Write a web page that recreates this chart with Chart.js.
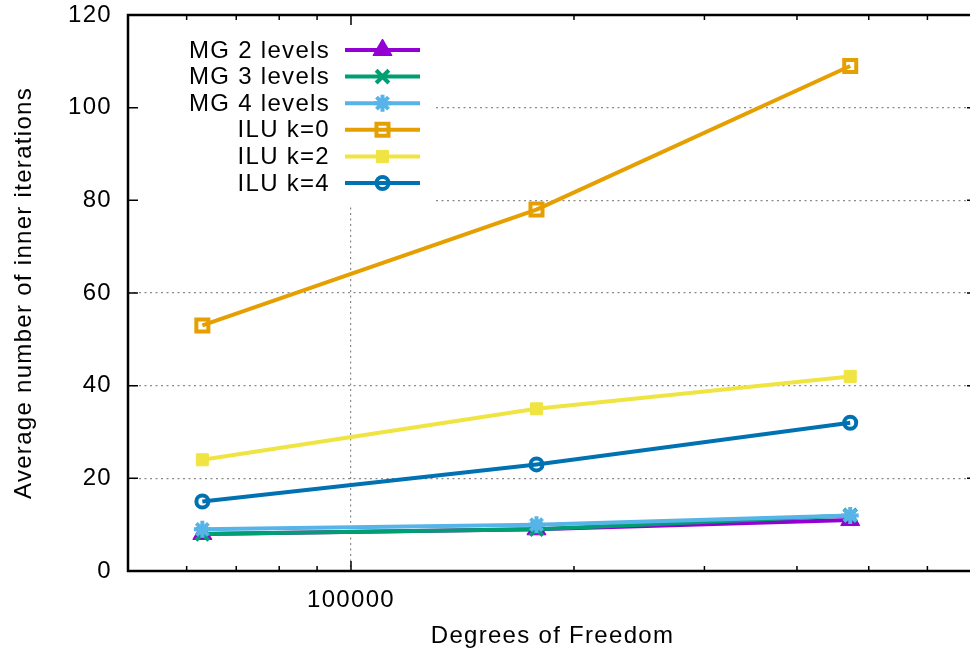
<!DOCTYPE html>
<html>
<head>
<meta charset="utf-8">
<title>Inner iterations vs degrees of freedom</title>
<script src="https://cdn.jsdelivr.net/npm/chart.js@4/dist/chart.umd.min.js"></script>
<style>
  html, body { margin: 0; padding: 0; background: #fff; overflow: hidden; }
  #wrap { width: 990px; height: 655px; }
</style>
</head>
<body>
<div id="wrap"><canvas id="chart"></canvas></div>
<script>
// problem sizes (log axis) and average inner iteration counts
const dof = [63000, 178000, 472000];
const mg2 = [8, 9, 11];
const mg3 = [8, 9, 12];
const mg4 = [9, 10, 12];
const ilu0 = [53, 78, 109];
const ilu2 = [24, 35, 42];
const ilu4 = [15, 23, 32];

const seriesNames = ['MG 2 levels', 'MG 3 levels', 'MG 4 levels', 'ILU k=0', 'ILU k=2', 'ILU k=4'];
const seriesValues = [mg2, mg3, mg4, ilu0, ilu2, ilu4];

const xTickValues = [60000, 70000, 80000, 90000, 100000, 200000, 300000, 400000, 500000, 600000, 700000];
const xLabelledTicks = [100000];
const yTickValues = [0, 20, 40, 60, 80, 100, 120];

// gnuplot-like line colours and point types
const colors = ['#9400d3', '#009e73', '#56b4e9', '#e69f00', '#f0e442', '#0072b2'];
const marks = [
  { style: 'triangle', r: 11, bw: 1, fill: true },
  { style: 'crossRot', r: 9, bw: 4, fill: false },
  { style: 'star', r: 8.5, bw: 4, fill: false },
  { style: 'rect', r: 8.5, bw: 4, fill: false },
  { style: 'rect', r: 8.5, bw: 1, fill: true },
  { style: 'circle', r: 6, bw: 4, fill: false }
];

const FONT = 'Liberation Sans, Arial, sans-serif';
const FONT_SIZE = 24;
const GRID = '#8a8a8a';

const datasets = seriesNames.map((name, i) => ({
  label: name,
  data: dof.map((d, j) => ({ x: d, y: seriesValues[i][j] })),
  borderColor: colors[i],
  borderWidth: 4,
  pointStyle: marks[i].style,
  pointRadius: marks[i].r,
  pointHoverRadius: marks[i].r,
  pointBorderWidth: marks[i].bw,
  pointBorderColor: colors[i],
  pointBackgroundColor: marks[i].fill ? colors[i] : 'rgba(0,0,0,0)',
  tension: 0,
  fill: false,
  order: 10 - i
}));

// spacing of the glyphs, applied to every text drawn on the canvas
const spacingPlugin = {
  id: 'spacing',
  beforeUpdate(chart) { chart.ctx.letterSpacing = '1.3px'; },
  beforeDraw(chart) { chart.ctx.letterSpacing = '1.3px'; }
};

// opaque key box in the upper left corner
const keyPlugin = {
  id: 'key',
  afterDatasetsDraw(chart) {
    const { ctx, chartArea: a } = chart;
    ctx.save();
    ctx.fillStyle = '#fff';
    ctx.fillRect(a.left + 1, a.top + 1, 306, 191);
    ctx.font = FONT_SIZE + 'px ' + FONT;
    ctx.textAlign = 'right';
    ctx.textBaseline = 'middle';
    chart.data.datasets.forEach((ds, i) => {
      const y = 50 + i * 26.6;
      ctx.fillStyle = '#000';
      ctx.fillText(ds.label, 330, y + 1);
      ctx.strokeStyle = ds.borderColor;
      ctx.lineWidth = 4;
      ctx.beginPath();
      ctx.moveTo(345, y);
      ctx.lineTo(420, y);
      ctx.stroke();
      ctx.fillStyle = ds.pointBackgroundColor;
      ctx.lineWidth = ds.pointBorderWidth;
      Chart.helpers.drawPoint(ctx, {
        pointStyle: ds.pointStyle,
        radius: ds.pointRadius,
        borderWidth: ds.pointBorderWidth,
        rotation: 0
      }, 382.5, y);
    });
    ctx.restore();
  }
};

// border and inward tick marks on every side
const framePlugin = {
  id: 'frame',
  afterDraw(chart) {
    const { ctx, chartArea: a, scales: { x, y } } = chart;
    ctx.save();
    ctx.strokeStyle = '#000';
    ctx.lineWidth = 1.5;
    ctx.beginPath();
    yTickValues.forEach(v => {
      const py = y.getPixelForValue(v);
      ctx.moveTo(a.left, py); ctx.lineTo(a.left + 10, py);
      ctx.moveTo(a.right, py); ctx.lineTo(a.right - 10, py);
    });
    xTickValues.forEach(v => {
      const px = x.getPixelForValue(v);
      const len = xLabelledTicks.includes(v) ? 10 : 5;
      ctx.moveTo(px, a.bottom); ctx.lineTo(px, a.bottom - len);
      ctx.moveTo(px, a.top); ctx.lineTo(px, a.top + len);
    });
    ctx.stroke();
    ctx.lineWidth = 2.5;
    ctx.strokeRect(a.left, a.top, a.right - a.left, a.bottom - a.top);
    ctx.restore();
  }
};

new Chart(document.getElementById('chart'), {
  type: 'line',
  data: { datasets },
  options: {
    responsive: true,
    maintainAspectRatio: false,
    animation: false,
    layout: { padding: { top: 15, right: 4, left: 0, bottom: 0 } },
    plugins: { legend: { display: false }, tooltip: { enabled: false } },
    scales: {
      x: {
        type: 'logarithmic',
        min: 50000,
        max: 700000,
        afterBuildTicks: scale => {
          scale.ticks = xTickValues.map(v => ({ value: v }));
        },
        afterFit: scale => {
          scale.height = 84;
          scale.paddingLeft = 0;
          scale.paddingRight = 0;
        },
        ticks: {
          autoSkip: false,
          maxRotation: 0,
          padding: 15,
          color: '#000',
          font: { family: FONT, size: FONT_SIZE },
          callback: v => xLabelledTicks.includes(v) ? String(v) : ''
        },
        grid: {
          drawTicks: false,
          lineWidth: 1.2,
          color: c => (c.tick && xLabelledTicks.includes(c.tick.value)) ? GRID : 'rgba(0,0,0,0)'
        },
        border: { display: false, dash: [2, 3.5] },
        title: {
          display: true,
          text: 'Degrees of Freedom',
          color: '#000',
          font: { family: FONT, size: FONT_SIZE },
          padding: { top: 0, bottom: 4 }
        }
      },
      y: {
        min: 0,
        max: 120,
        afterBuildTicks: scale => {
          scale.ticks = yTickValues.map(v => ({ value: v }));
        },
        afterFit: scale => {
          scale.width = 128;
          scale.paddingTop = 0;
          scale.paddingBottom = 0;
        },
        ticks: {
          padding: 16,
          color: '#000',
          font: { family: FONT, size: FONT_SIZE }
        },
        grid: {
          drawTicks: false,
          lineWidth: 1.2,
          color: c => (c.tick && (c.tick.value === 0 || c.tick.value === 120)) ? 'rgba(0,0,0,0)' : GRID
        },
        border: { display: false, dash: [2, 3.5] },
        title: {
          display: true,
          text: 'Average number of inner iterations',
          color: '#000',
          font: { family: FONT, size: FONT_SIZE },
          padding: { top: 10, bottom: 0 }
        }
      }
    }
  },
  plugins: [spacingPlugin, keyPlugin, framePlugin]
});
</script>
</body>
</html>
